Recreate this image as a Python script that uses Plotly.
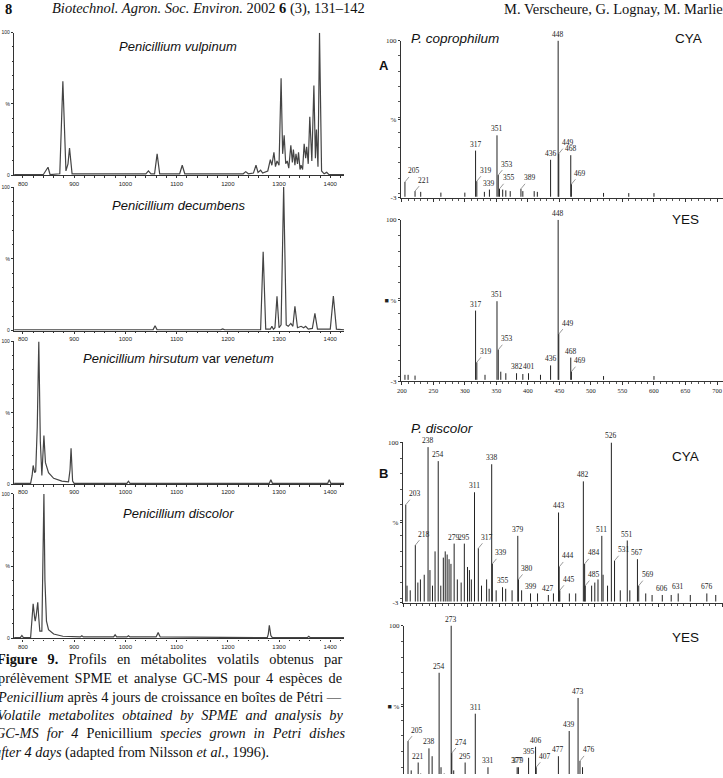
import plotly.graph_objects as go

W, H = 723, 778

# ---------------- data: GC-MS chromatograms (scan, % intensity) ----------------
vulp_rt = [783, 840, 849, 853, 872, 878, 884, 888, 891, 896, 950, 1040, 1045, 1050, 1057, 1062, 1067,
           1106, 1111, 1116, 1230, 1235, 1240, 1250, 1255, 1259, 1264, 1268, 1278, 1283, 1286, 1290,
           1293, 1296, 1300, 1304, 1307, 1310, 1313, 1316, 1319, 1323, 1326, 1328, 1331, 1333, 1336,
           1338, 1341, 1343, 1346, 1349, 1352, 1354, 1357, 1360, 1364, 1368, 1371, 1373, 1376, 1379,
           1383, 1388, 1393, 1397, 1427]
vulp_int = [0.5, 0.5, 5.6, 0.5, 1, 66, 3, 8, 19, 1, 1, 1, 3, 1, 1, 15, 1,
            1, 7, 1, 1, 2.5, 1, 1.5, 7, 2, 3.5, 1.5, 3, 11, 7, 16,
            6, 10, 7, 68, 15, 28, 8, 10, 5, 21, 9, 18, 7, 15, 8,
            16, 4, 7, 4, 22, 12, 20, 8, 41, 10, 63, 12, 32, 6, 100,
            3, 1, 2, 0.5, 0.5]

decu_rt = [783, 1054, 1058, 1062, 1186, 1190, 1194, 1264, 1269, 1274, 1283, 1286, 1289, 1292, 1296, 1300,
           1304, 1309, 1314, 1318, 1323, 1327, 1331, 1336, 1343, 1348, 1352, 1357, 1365, 1370, 1375,
           1400, 1406, 1412, 1427]
decu_int = [0.5, 0.5, 3.4, 0.5, 0.5, 1.2, 0.5, 0.5, 55, 1, 1, 3, 1, 2, 24, 2,
            4, 100, 4, 3, 5, 3, 17, 2, 3, 2, 3, 1, 1.5, 12, 1,
            1, 24, 1, 0.5]

hirs_rt = [783, 815, 818, 820, 823, 825, 828, 831, 834, 837, 839, 841, 844, 850, 860, 876, 889, 892,
           894, 897, 900, 1003, 1006, 1009, 1281, 1284, 1287, 1395, 1398, 1401, 1427]
hirs_int = [0.5, 0.5, 6, 13, 8, 9, 40, 100, 30, 6, 20, 34, 15, 8, 4, 2, 1.5, 10,
            25, 2, 0.5, 0.5, 2, 0.5, 0.5, 3, 0.5, 0.5, 3, 0.5, 0.5]

disc_rt = [783, 795, 798, 801, 815, 818, 820, 823, 824, 826, 829, 831, 833, 837, 839, 841, 843, 846,
           850, 860, 878, 912, 915, 918, 977, 980, 983, 1003, 1006, 1009, 1060, 1064, 1068, 1277,
           1279, 1281, 1284, 1287, 1355, 1358, 1361, 1427]
disc_int = [0.5, 0.5, 2, 0.5, 0.5, 12, 24, 14, 12, 16, 25, 14, 5, 5, 45, 100, 40, 12,
            6, 3, 1.5, 1, 1.8, 1, 1, 2.5, 1, 1, 1.8, 1, 1, 4, 1, 0.5,
            3, 9, 2, 0.5, 0.5, 1.5, 0.5, 0.5]

chrom_titles = ["<i>Penicillium vulpinum</i>", "<i>Penicillium decumbens</i>",
                "<i>Penicillium hirsutum</i> var <i>venetum</i>", "<i>Penicillium discolor</i>"]
chrom_ticks = [800, 900, 1000, 1100, 1200, 1300, 1400]

# ---------------- data: mass spectra (m/z, % relative abundance) ----------------
A_cya_mz = [205, 221, 230, 262, 300, 317, 319, 331, 339, 351, 353, 355, 360, 365, 372, 389, 392, 410,
            415, 436, 448, 449, 468, 469, 520, 560, 600]
A_cya_h = [7.5, 1.5, 1, 0.5, 0.5, 28, 8, 1, 2.5, 38, 12, 3, 2.5, 2, 1.5, 3, 1.5, 1.5,
           1, 22, 100, 26, 25, 6, 0.3, 0.2, 0.2]
A_cya_top = ["317", "339", "351", "436", "448", "468"]
A_cya_lead = ["205", "221", "319", "353", "355", "389", "449", "469"]

A_yes_mz = [205, 210, 221, 317, 319, 332, 351, 353, 357, 365, 382, 392, 401, 420, 436, 448, 449, 468,
            469, 520, 600]
A_yes_h = [1, 1, 0.5, 42, 9, 1, 48, 17, 3, 2, 2, 1.5, 2, 1, 7, 100, 27, 12,
           3, 0.2, 0.2]
A_yes_top = ["317", "351", "382", "401", "436", "448", "468"]
A_yes_lead = ["319", "353", "449", "469"]

B_cya_mz = [203, 205, 210, 218, 222, 226, 232, 238, 241, 245, 249, 254, 258, 262, 265, 268, 271, 274,
            279, 284, 290, 295, 300, 303, 306, 311, 317, 322, 330, 334, 338, 339, 345, 355, 360, 370,
            379, 380, 385, 399, 410, 427, 435, 443, 444, 445, 460, 470, 482, 484, 485, 495, 500, 505,
            511, 513, 520, 526, 531, 540, 551, 555, 567, 569, 580, 590, 606, 620, 631, 650, 676, 690]
B_cya_h = [60, 8, 5, 34, 10, 12, 15, 97, 18, 8, 30, 88, 8, 26, 30, 28, 25, 22,
           35, 12, 10, 35, 20, 18, 12, 68, 32, 8, 12, 6, 86, 22, 5, 7, 6, 5,
           40, 12, 5, 3, 3, 2, 3, 55, 20, 5, 3, 3, 75, 22, 8, 8, 10, 12,
           40, 15, 8, 100, 24, 5, 37, 5, 25, 8, 3, 2, 2, 2, 3, 2, 3, 2]
B_cya_top = ["238", "254", "279", "295", "311", "338", "355", "379", "399", "427", "443", "482",
             "511", "526", "551", "567", "606", "631", "676"]
B_cya_lead = ["203", "218", "317", "339", "380", "444", "445", "484", "485", "531", "569"]

B_yes_mz = [205, 210, 221, 225, 238, 243, 254, 257, 262, 273, 274, 277, 285, 295, 311, 331, 340, 377,
            379, 395, 406, 407, 415, 442, 459, 473, 476, 480, 505, 527]
B_yes_h = [26.6, 8, 13, 6, 22, 17, 70, 10, 6, 100, 19, 8, 5, 13, 44, 10, 5, 10,
           10, 16, 23, 10, 5, 17, 33, 54, 14, 10, 5, 5]
B_yes_labels = ["205", "210", "221", "225", "238", "243", "254", "257", "262", "273", "274", "277",
                "285", "295", "311", "331", "340", "377", "379", "395", "406", "407", "415", "477",
                "439", "473", "476", "480", "487", "529"]
B_yes_top = ["221", "238", "254", "273", "295", "311", "331", "377", "379", "395", "406", "477",
             "439", "473", "487", "529"]
B_yes_lead = ["205", "274", "407", "476"]

# ---------------- layout helpers ----------------
def XP(px):
    return px / W

def YP(py):
    return 1 - py / H

fig = go.Figure()
layout = dict(width=W, height=H, margin=dict(l=0, r=0, t=0, b=0), showlegend=False,
              paper_bgcolor="white", plot_bgcolor="white")
ann = []

AXC = "#333333"
SANS = "Liberation Sans, Arial, sans-serif"
SERIF = "Liberation Serif, Times New Roman, serif"

# left chromatogram panels
chrom = [(vulp_rt, vulp_int, 29, 173, 43), (decu_rt, decu_int, 185, 330, 204),
         (hirs_rt, hirs_int, 341, 485, 358), (disc_rt, disc_int, 495, 641, 515)]
for i, (rt, it, top, bot, ty) in enumerate(chrom):
    n = i + 1
    xa = "x" if n == 1 else f"x{n}"
    ya = "y" if n == 1 else f"y{n}"
    fig.add_trace(go.Scatter(x=rt, y=it, mode="lines", xaxis=xa, yaxis=ya,
                             line=dict(color="#444444", width=1.2), hoverinfo="skip"))
    layout["xaxis" if n == 1 else f"xaxis{n}"] = dict(
        domain=[XP(10), XP(342)], range=[782.5, 1427], anchor=ya,
        showline=True, linecolor=AXC, linewidth=1.2, showgrid=False, zeroline=False,
        ticks="outside", ticklen=2, tickwidth=1, tickcolor=AXC, tickvals=chrom_ticks,
        tickfont=dict(size=6, family=SANS, color="#222"),
        minor=dict(ticks="outside", ticklen=1.5, dtick=20, tick0=800, tickcolor=AXC))
    layout["yaxis" if n == 1 else f"yaxis{n}"] = dict(
        domain=[YP(bot), YP(top)], range=[0, 100], anchor=xa,
        showline=True, linecolor=AXC, linewidth=1.2, showgrid=False, zeroline=False,
        ticks="outside", ticklen=2, tickcolor=AXC, tickvals=[0, 50, 100], ticktext=["0", "%", "100"],
        tickfont=dict(size=5, family=SANS, color="#222"),
        minor=dict(ticks="outside", ticklen=1, dtick=10, tickcolor=AXC))
    ann.append(dict(xref="paper", yref="paper", x=XP(175), y=YP(ty), text=chrom_titles[i],
                    showarrow=False, xanchor="center", yanchor="middle",
                    font=dict(size=13, family=SANS, color="#111")))

# right mass spectra panels
def sticks(mz, h, base):
    xs, ys = [], []
    for m, v in zip(mz, h):
        xs += [m, m, None]
        ys += [base, v, None]
    return xs, ys

spectra = [
    (A_cya_mz, A_cya_h, [str(m) for m in A_cya_mz], A_cya_top, A_cya_lead, 37, 196, 399,
     [198.4, 709.5], [-3, 100], False, "%"),
    (A_yes_mz, A_yes_h, [str(m) for m in A_yes_mz], A_yes_top, A_yes_lead, 218, 381, 399,
     [198.4, 709.5], [-3, 100], True, "■ %"),
    (B_cya_mz, B_cya_h, [str(m) for m in B_cya_mz], B_cya_top, B_cya_lead, 443, 605, 401,
     [198.3, 701.4], [-3, 100], False, "%"),
    (B_yes_mz, B_yes_h, B_yes_labels, B_yes_top, B_yes_lead, 628, 778, 402,
     [198.3, 701.4], [5.7, 100], False, "■ %"),
]
for j, (mz, h, labs, tops, leads, top, bot, x0, xr, yr, showlab, pct) in enumerate(spectra):
    n = j + 5
    xa, ya = f"x{n}", f"y{n}"
    xs, ys = sticks(mz, h, -2.2)
    fig.add_trace(go.Scatter(x=xs, y=ys, mode="lines", xaxis=xa, yaxis=ya,
                             line=dict(color="#222", width=1.0), hoverinfo="skip"))
    last = (j == 3)
    layout[f"xaxis{n}"] = dict(
        domain=[XP(x0), 1.0], range=xr, anchor=ya,
        showline=not last, linecolor=AXC, linewidth=1, showgrid=False, zeroline=False,
        ticks="" if last else "outside", ticklen=3, tickcolor=AXC, tick0=200, dtick=50,
        showticklabels=showlab, tickfont=dict(size=6.5, family=SERIF, color="#222"),
        minor=dict(ticks="" if last else "outside", ticklen=2, dtick=10, tickcolor="#555"))
    layout[f"yaxis{n}"] = dict(
        domain=[YP(bot), YP(top)], range=yr, anchor=xa,
        showline=True, linecolor=AXC, linewidth=1, showgrid=False, zeroline=False,
        ticks="outside", ticklen=2, tickcolor=AXC,
        tickvals=[-3, 48.5, 100], ticktext=["-3", pct, "100"],
        tickfont=dict(size=7, family=SERIF, color="#222"),
        minor=dict(ticks="outside", ticklen=1.5, dtick=10, tickcolor="#555"))
    for m, v, lab in zip(mz, h, labs):
        if lab in tops:
            ann.append(dict(xref=xa, yref=ya, x=m, y=v, text=lab, showarrow=False,
                            xanchor="center", yanchor="bottom", yshift=0,
                            font=dict(size=7.5, family=SERIF, color="#222")))
        elif lab in leads:
            ann.append(dict(xref=xa, yref=ya, x=m, y=v, text=lab, showarrow=True,
                            arrowhead=0, arrowwidth=0.6, arrowcolor="#555", ax=9, ay=-11,
                            standoff=0, font=dict(size=7.5, family=SERIF, color="#222")))

# panel texts (right)
def ptxt(px, py, text, size=13.5, xanchor="center", family=SANS):
    ann.append(dict(xref="paper", yref="paper", x=XP(px), y=YP(py), text=text, showarrow=False,
                    xanchor=xanchor, yanchor="middle", font=dict(size=size, family=family, color="#111")))

ptxt(407, 35, "<i>P. coprophilum</i>", 13.5, "left")
ptxt(688, 35, "CYA")
ptxt(382, 62, "<b>A</b>", 13)
ptxt(685, 218, "YES")
ptxt(407, 429, "<i>P. discolor</i>", 13.5, "left")
ptxt(685, 457, "CYA")
ptxt(382, 474, "<b>B</b>", 13)
ptxt(685, 640, "YES")

# page header (partially cut off at the top)
ptxt(-1, 5, "<b>8</b>", 14.5, "left", SERIF)
ptxt(46, 5, "<i>Biotechnol. Agron. Soc. Environ.</i> 2002 <b>6</b> (3), 131–142", 14.5, "left", SERIF)
ptxt(501, 5, "M. Verscheure, G. Lognay, M. Marlier", 14.5, "left", SERIF)

# caption
cap_lines = [
    (-9.5, 662, 6.7, "<b>Figure 9.</b> Profils en métabolites volatils obtenus par"),
    (-8, 681, 2.3, "prélèvement SPME et analyse GC-MS pour 4 espèces de"),
    (-9.5, 700, 0, "<i>Penicillium</i> après 4 jours de croissance en boîtes de Pétri —"),
    (-9.5, 718, 4.2, "<i>Volatile metabolites obtained by SPME and analysis by</i>"),
    (-11, 737, 4.4, "<i>GC-MS for 4</i> Penicillium <i>species grown in Petri dishes</i>"),
    (-12, 756, 0, "<i>after 4 days</i> (adapted from Nilsson <i>et al.</i>, 1996)."),
]
for x0, y0, ws, txt in cap_lines:
    ann.append(dict(xref="paper", yref="paper", x=XP(x0), y=YP(y0),
                    text=f'<span style="word-spacing:{ws}px">{txt}</span>', showarrow=False,
                    xanchor="left", yanchor="middle",
                    font=dict(size=14.3, family=SERIF, color="#111")))

layout["annotations"] = ann
fig.update_layout(**layout)
fig.write_html("out.html")
